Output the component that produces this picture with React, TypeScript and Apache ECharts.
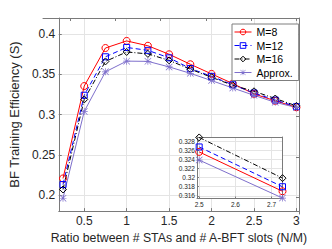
import React, { useEffect, useRef } from "react";
import * as echarts from "echarts";

const xValues = [0.25, 0.5, 0.75, 1, 1.25, 1.5, 1.75, 2, 2.25, 2.5, 2.75, 3];
const m8 = [0.2206, 0.3354, 0.3827, 0.3915, 0.3855, 0.3749, 0.3625, 0.3505, 0.3385, 0.3257, 0.317, 0.309];
const m12 = [0.213, 0.324, 0.3718, 0.3834, 0.3798, 0.3705, 0.3572, 0.3475, 0.337, 0.3268, 0.318, 0.3098];
const m16 = [0.2069, 0.3188, 0.366, 0.3778, 0.3754, 0.3673, 0.3564, 0.3463, 0.3364, 0.3289, 0.3199, 0.3108];
const approx = [0.196, 0.3039, 0.3531, 0.3664, 0.3661, 0.3592, 0.3512, 0.3422, 0.333, 0.3239, 0.3152, 0.3087];

const xTicks = [0.5, 1, 1.5, 2, 2.5, 3];
const yTicks = [0.2, 0.25, 0.3, 0.35, 0.4];

const insetX = [2.5, 2.73];
const insetM8 = [0.3257, 0.317];
const insetM12 = [0.3268, 0.318];
const insetM16 = [0.3289, 0.3199];
const insetApprox = [0.3239, 0.3155];
const insetXTicks = [2.5, 2.6, 2.7];
const insetYTicks = [0.316, 0.318, 0.32, 0.322, 0.324, 0.326, 0.328];

const seriesNames = ["M=8", "M=12", "M=16", "Approx."];

const FONT = "Liberation Sans, Arial, sans-serif";
const AXIS_COLOR = "#7a7a7a";
const TEXT_COLOR = "#262626";
const GRID_COLOR = "#e4e4e4";
const PURPLE = "#7e6fcc";

const asterisk =
  "path://M4.5 0 L5.5 0 L5.5 10 L4.5 10 Z M0 4.5 L10 4.5 L10 5.5 L0 5.5 Z M0.7 0 L10 9.3 L9.3 10 L0 0.7 Z M9.3 0 L10 0.7 L0.7 10 L0 9.3 Z";

const styles = [
  { color: "#ff0000", symbol: "circle", size: 7, type: "solid" as any, hollow: true },
  { color: "#0000ff", symbol: "rect", size: 6, type: [5, 3] as any, hollow: true },
  { color: "#000000", symbol: "diamond", size: 7, type: [5, 2, 1, 2] as any, hollow: true },
  { color: PURPLE, symbol: asterisk, size: 7, type: "solid" as any, hollow: false },
];

const itemStyleFor = (i: number) => {
  const s = styles[i];
  return s.hollow
    ? { color: "rgba(0,0,0,0)", borderColor: s.color, borderWidth: 1 }
    : { color: s.color, borderWidth: 0 };
};

export default function App() {
  const ref = useRef<HTMLDivElement>(null);
  useEffect(() => {
    if (!ref.current) return;
    const chart = echarts.init(ref.current, undefined, { renderer: "svg" });
    const mainData = [m8, m12, m16, approx];
    const insetData = [insetM8, insetM12, insetM16, insetApprox];

    const mkSeries = (i: number, inset: boolean) => {
      const s = styles[i];
      const vals = inset ? insetData[i] : mainData[i];
      const xs = inset ? insetX : xValues;
      return {
        name: seriesNames[i] + (inset ? " " : ""),
        type: "line",
        xAxisIndex: inset ? 2 : 0,
        yAxisIndex: inset ? 2 : 0,
        data: xs.map((x, k) => [x, vals[k]]),
        symbol: s.symbol,
        symbolSize: s.size,
        showAllSymbol: true,
        clip: false,
        z: inset ? 8 : 2,
        lineStyle: { color: s.color, width: 1, type: s.type },
        itemStyle: itemStyleFor(i),
        emphasis: { disabled: true },
      };
    };

    const tickFmt = (v: number) => String(Math.round(v * 1000) / 1000);

    chart.setOption({
      animation: false,
      backgroundColor: "#ffffff",
      textStyle: { fontFamily: FONT },
      grid: [
        { left: 43, right: 33, top: 18, bottom: 35 },
        { left: 43, right: 33, top: 18, bottom: 35 },
        { left: 197, right: 49.5, top: 137, bottom: 50.5 },
      ],
      graphic: [
        {
          type: "rect",
          shape: { x: 197, y: 137, width: 332 - 49.5 - 197, height: 249 - 50.5 - 137 },
          style: { fill: "#ffffff" },
          z: 5,
        },
      ],
      legend: {
        data: seriesNames.map((n, i) => ({
          name: n,
          itemStyle: itemStyleFor(i),
          lineStyle: { color: styles[i].color, width: 1, type: styles[i].type },
        })),
        orient: "vertical",
        left: 232,
        top: 24,
        itemWidth: 17,
        itemHeight: 7,
        itemGap: 1.5,
        padding: [2, 6, 2, 2],
        backgroundColor: "#ffffff",
        borderColor: "#7f7f7f",
        borderWidth: 1,
        borderRadius: 0,
        textStyle: { fontSize: 10.5, color: "#000", fontFamily: FONT, lineHeight: 12 },
        z: 20,
      },
      xAxis: [
        {
          type: "value",
          gridIndex: 0,
          min: 0.2,
          max: 3.03,
          position: "bottom",
          name: "Ratio between # STAs and # A-BFT slots (N/M)",
          nameLocation: "middle",
          nameGap: 20,
          nameTextStyle: { fontSize: 12.3, color: TEXT_COLOR, fontFamily: FONT },
          axisLine: { show: true, lineStyle: { color: AXIS_COLOR, width: 1 } },
          axisTick: { show: true, inside: true, length: 3, customValues: xTicks, lineStyle: { color: AXIS_COLOR } },
          axisLabel: { customValues: xTicks, fontSize: 12, color: TEXT_COLOR, margin: 4, formatter: tickFmt, fontFamily: FONT },
          splitLine: { show: true, lineStyle: { color: GRID_COLOR, width: 1 } },
        },
        {
          type: "value",
          gridIndex: 1,
          min: 0.2,
          max: 3.03,
          position: "top",
          axisLine: { show: true, lineStyle: { color: AXIS_COLOR, width: 1 } },
          axisTick: { show: true, inside: true, length: 3, customValues: xTicks, lineStyle: { color: AXIS_COLOR } },
          axisLabel: { show: false },
          splitLine: { show: false },
        },
        {
          type: "value",
          gridIndex: 2,
          min: 2.494,
          max: 2.73,
          position: "bottom",
          z: 6,
          axisLine: { show: true, onZero: false, lineStyle: { color: AXIS_COLOR, width: 1 } },
          axisTick: { show: true, inside: true, length: 2, customValues: insetXTicks, lineStyle: { color: AXIS_COLOR } },
          axisLabel: { customValues: insetXTicks, fontSize: 6.5, color: TEXT_COLOR, margin: 2, formatter: tickFmt, fontFamily: FONT },
          splitLine: { show: true, lineStyle: { color: GRID_COLOR, width: 1 } },
        },
        {
          type: "value",
          gridIndex: 2,
          min: 2.494,
          max: 2.73,
          position: "top",
          z: 6,
          axisLine: { show: true, onZero: false, lineStyle: { color: AXIS_COLOR, width: 1 } },
          axisTick: { show: false },
          axisLabel: { show: false },
          splitLine: { show: false },
        },
      ],
      yAxis: [
        {
          type: "value",
          gridIndex: 0,
          min: 0.18,
          max: 0.42,
          position: "left",
          name: "BF Training Efficiency (S)",
          nameLocation: "middle",
          nameGap: 25,
          nameTextStyle: { fontSize: 13, color: TEXT_COLOR, fontFamily: FONT },
          axisLine: { show: true, lineStyle: { color: AXIS_COLOR, width: 1 } },
          axisTick: { show: true, inside: true, length: 3, customValues: yTicks, lineStyle: { color: AXIS_COLOR } },
          axisLabel: { customValues: yTicks, fontSize: 12, color: TEXT_COLOR, margin: 3.5, formatter: tickFmt, fontFamily: FONT },
          splitLine: { show: true, lineStyle: { color: GRID_COLOR, width: 1 } },
        },
        {
          type: "value",
          gridIndex: 1,
          min: 0.18,
          max: 0.42,
          position: "right",
          axisLine: { show: true, lineStyle: { color: AXIS_COLOR, width: 1 } },
          axisTick: { show: true, inside: true, length: 3, customValues: yTicks, lineStyle: { color: AXIS_COLOR } },
          axisLabel: { show: false },
          splitLine: { show: false },
        },
        {
          type: "value",
          gridIndex: 2,
          min: 0.3154,
          max: 0.329,
          position: "left",
          z: 6,
          axisLine: { show: true, onZero: false, lineStyle: { color: AXIS_COLOR, width: 1 } },
          axisTick: { show: true, inside: true, length: 2, customValues: insetYTicks, lineStyle: { color: AXIS_COLOR } },
          axisLabel: { customValues: insetYTicks, fontSize: 6.5, color: TEXT_COLOR, margin: 2, formatter: tickFmt, fontFamily: FONT },
          splitLine: { show: true, lineStyle: { color: GRID_COLOR, width: 1 } },
        },
        {
          type: "value",
          gridIndex: 2,
          min: 0.3154,
          max: 0.329,
          position: "right",
          z: 6,
          axisLine: { show: true, onZero: false, lineStyle: { color: AXIS_COLOR, width: 1 } },
          axisTick: { show: false },
          axisLabel: { show: false },
          splitLine: { show: false },
        },
      ],
      series: [0, 1, 2, 3].map((i) => mkSeries(i, false)).concat([0, 1, 2, 3].map((i) => mkSeries(i, true))),
    });
    return () => chart.dispose();
  }, []);
  return <div ref={ref} style={{ width: 332, height: 249, position: "absolute", left: 0, top: 0 }} />;
}
